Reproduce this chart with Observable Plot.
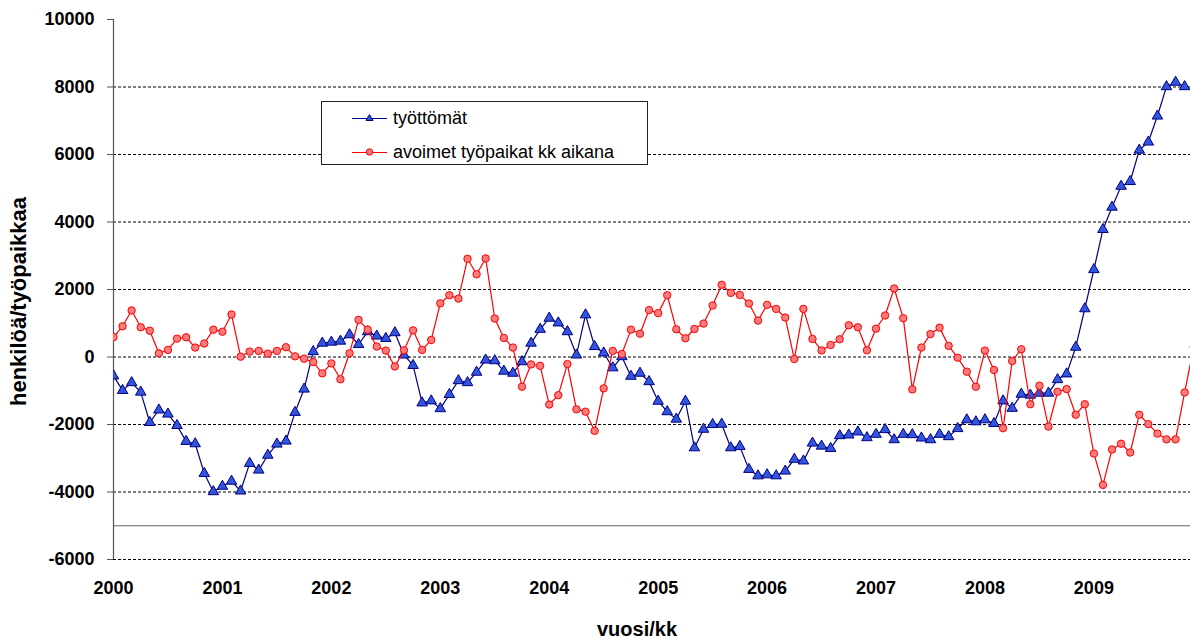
<!DOCTYPE html>
<html><head><meta charset="utf-8">
<script src="https://cdn.jsdelivr.net/npm/d3@7"></script>
<script src="https://cdn.jsdelivr.net/npm/@observablehq/plot@0.6"></script>
<style>
body{margin:0;background:#fff;font-family:"Liberation Sans",Arial,sans-serif}
#wrap{position:relative;width:1190px;height:640px;overflow:hidden;background:#fff}
#legend{position:absolute;left:321px;top:101px;width:325px;height:62px;border:1px solid #222;background:#fff;font-size:18px;color:#000}
.row{position:absolute;left:30px;height:20px;display:flex;align-items:center}
.row svg{margin-right:5px}
</style></head>
<body><div id="wrap"></div>
<script>
const startYear = 2000;
const seriesNames = ["työttömät", "avoimet työpaikat kk aikana"];
const tyottomat = [
  -560, -990, -760, -1040, -1940, -1570, -1690, -2030, -2500, -2570, -3450, -3990,
  -3830, -3680, -3970, -3150, -3350, -2910, -2580, -2490, -1640, -950, 160, 410,
  440, 470, 660, 370, 750, 620, 550, 720, 60, -250, -1360, -1300,
  -1530, -1110, -700, -760, -450, -90, -110, -420, -480, -140, 410, 820,
  1150, 1010, 750, 60, 1250, 310, 120, -320, 10, -570, -480, -730,
  -1310, -1620, -1840, -1310, -2690, -2140, -2000, -1990, -2690, -2650, -3330, -3520,
  -3490, -3520, -3380, -3030, -3080, -2550, -2640, -2710, -2330, -2310, -2220, -2390,
  -2290, -2150, -2450, -2290, -2300, -2400, -2450, -2290, -2360, -2120, -1860, -1920,
  -1860, -1970, -1300, -1520, -1100, -1130, -1070, -1070, -670, -500, 290, 1430,
  2590, 3780, 4440, 5060, 5200, 6130, 6370, 7140, 8010, 8140, 8010
];
const avoimet = [
  590, 910, 1380, 880, 780, 110, 210, 545, 585, 280, 400, 810,
  750, 1260, 10, 160, 180, 100, 180, 290, 20, -50, -150, -485,
  -190, -660, 110, 1100, 810, 310, 190, -280, 200, 790, 210, 505,
  1590, 1830, 1730, 2910, 2450, 2920, 1140, 565, 280, -880, -220, -260,
  -1410, -1130, -210, -1550, -1620, -2190, -930, 180, 90, 810, 690, 1390,
  1300, 1830, 820, 555, 830, 990, 1525, 2140, 1900, 1840, 1585, 1080,
  1545, 1425, 1170, -60, 1425, 535, 195, 355, 525, 940, 880, 200,
  840, 1230, 2030, 1150, -960, 280, 680, 870, 330, -20, -435, -880,
  190, -385, -2110, -120, 230, -1400, -850, -2060, -1030, -950, -1710, -1400,
  -2860, -3790, -2740, -2570, -2830, -1710, -1990, -2270, -2440, -2440, -1050, 300
];
const yearTicks = [2000, 2001, 2002, 2003, 2004, 2005, 2006, 2007, 2008, 2009];
const yTicks = [-6000, -4000, -2000, 0, 2000, 4000, 6000, 8000, 10000];
const gridLines = [-6000, -4000, -2000, 0, 2000, 4000, 6000, 8000];
const axisCross = -5000;
const xTitle = "vuosi/kk";
const yTitle = "henkilöä/työpaikkaa";

const blueLine = "#000080", blueFill = "#3355dd";
const redLine = "#ff0000", redFill = "#ff7a7a";

const toRows = (vals) => vals.map((v, i) => ({t: startYear + i / 12, v}));
const blue = toRows(tyottomat);
const red = toRows(avoimet);

const font = '"Liberation Sans", Arial, sans-serif';

const chart = Plot.plot({
  width: 1190,
  height: 640,
  marginLeft: 113,
  marginRight: 0,
  marginTop: 19,
  marginBottom: 81,
  style: {fontFamily: font, background: "#fff", overflow: "visible"},
  x: {type: "linear", domain: [2000, 2009.887]},
  y: {domain: [-6000, 10000]},
  marks: [
    Plot.ruleY(gridLines, {stroke: "#000", strokeDasharray: "3,2", strokeWidth: 1}),
    Plot.ruleY([axisCross], {stroke: "#666", strokeWidth: 1}),
    Plot.ruleX([startYear], {stroke: "#555", strokeWidth: 1.2}),
    Plot.axisY(yTicks, {tickSize: 6, tickPadding: 13, fontSize: 18, fontWeight: "bold", stroke: "#555", fill: "#000", label: null, tickFormat: d => String(d)}),
    Plot.axisX(yearTicks, {tickSize: 0, tickPadding: 22, fontSize: 18, fontWeight: "bold", fill: "#000", label: null, tickFormat: d => String(d)}),
    Plot.line(blue, {x: "t", y: "v", stroke: blueLine, strokeWidth: 1.2, clip: true}),
    Plot.dot(blue, {x: "t", y: "v", symbol: "triangle", r: 3.9, fill: blueFill, stroke: blueLine, strokeWidth: 1, clip: true}),
    Plot.line(red, {x: "t", y: "v", stroke: redLine, strokeWidth: 1.2, clip: true}),
    Plot.dot(red, {x: "t", y: "v", symbol: "circle", r: 3.7, fill: redFill, stroke: redLine, strokeWidth: 1, clip: true}),
    Plot.text([xTitle], {frameAnchor: "bottom", dx: -15, dy: 76, lineAnchor: "bottom", fontSize: 20, fontWeight: "bold", fill: "#000"}),
    Plot.text([yTitle], {frameAnchor: "left", textAnchor: "middle", dx: -95, dy: 12, rotate: -90, fontSize: 22, fontWeight: "bold", fill: "#000"})
  ]
});

const wrap = document.getElementById("wrap");
wrap.appendChild(chart);

const legend = document.createElement("div");
legend.id = "legend";
const mk = (name, color, fill, sym, top) => {
  const row = document.createElement("div");
  row.className = "row";
  row.style.top = top + "px";
  const shape = sym === "tri"
    ? `<path d="M17.5,6.5 L21,12.5 L14,12.5 Z" fill="${fill}" stroke="${color}"/>`
    : `<circle cx="17.5" cy="10" r="3.2" fill="${fill}" stroke="${color}"/>`;
  row.innerHTML = `<svg width="36" height="20"><line x1="0" x2="35" y1="10.5" y2="10.5" stroke="${color}" stroke-width="1.2"/>${shape}</svg><span>${name}</span>`;
  legend.appendChild(row);
};
mk(seriesNames[0], blueLine, blueFill, "tri", 6);
mk(seriesNames[1], redLine, redFill, "circ", 40);
wrap.appendChild(legend);
</script>
</body></html>
